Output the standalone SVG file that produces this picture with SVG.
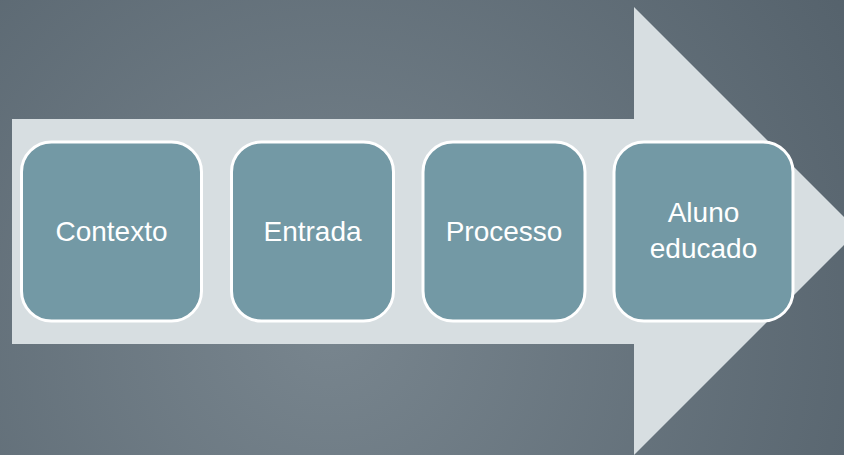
<svg xmlns="http://www.w3.org/2000/svg" width="844" height="455" viewBox="0 0 844 455">
<defs>
<radialGradient id="bg" cx="330" cy="330" r="620" gradientUnits="userSpaceOnUse">
<stop offset="0" stop-color="#78858e"/>
<stop offset="1" stop-color="#55626c"/>
</radialGradient>
<style>
.box{fill:#7399a5;stroke:#ffffff;stroke-width:3}
.lbl{font-family:"Liberation Sans",Arial,sans-serif;font-size:28px;fill:#ffffff;text-anchor:middle}
</style>
</defs>
<rect width="844" height="455" fill="url(#bg)"/>
<g id="arrow">
<polygon points="12,119 634,119 634,7 858,231 634,455 634,344 12,344" fill="#d7dee1"/>
</g>
<g id="connectors"></g>
<g id="node-contexto">
<rect class="box" x="21.5" y="142" width="180" height="179" rx="30"/>
<text class="lbl" x="111.5" y="241">Contexto</text>
</g>
<g id="node-entrada">
<rect class="box" x="231.5" y="142" width="162" height="179" rx="30"/>
<text class="lbl" x="312.5" y="241">Entrada</text>
</g>
<g id="node-processo">
<rect class="box" x="423" y="142" width="162" height="179" rx="30"/>
<text class="lbl" x="504" y="241">Processo</text>
</g>
<g id="node-aluno">
<rect class="box" x="614" y="142" width="179" height="179" rx="30"/>
<text class="lbl" x="703.5" y="222">Aluno</text>
<text class="lbl" x="703.5" y="258">educado</text>
</g>
</svg>
